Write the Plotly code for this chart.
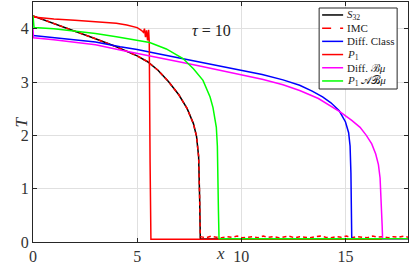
import plotly.graph_objects as go

# ---------------- data ----------------
s32_x = [0, 1, 2, 3, 4, 5, 5.5, 6, 6.5, 7, 7.4, 7.7, 7.85, 7.95, 8.0, 8.03, 18]
s32_T = [4.24, 4.10, 3.95, 3.81, 3.66, 3.49, 3.38, 3.22, 3.01, 2.76, 2.50, 2.22, 1.98, 1.60, 0.80, 0.06, 0.05]

imc_x = [0, 1, 2, 3, 4, 5, 5.5, 6, 6.5, 7, 7.4, 7.7, 7.85, 7.95, 8.0, 8.03,
         8.3, 8.55, 8.8, 9.05, 9.3, 9.55, 9.8, 10.05, 10.3, 10.55, 10.8, 11.05, 11.3, 11.55,
         11.8, 12.05, 12.3, 12.55, 12.8, 13.05, 13.3, 13.55, 13.8, 14.05, 14.3, 14.55, 14.8,
         15.05, 15.3, 15.55, 15.8, 16.05, 16.3, 16.55, 16.8, 17.05, 17.3, 17.55, 17.8, 18.0]
imc_T = [4.24, 4.10, 3.95, 3.81, 3.66, 3.49, 3.38, 3.22, 3.01, 2.76, 2.50, 2.22, 1.98, 1.60, 0.80, 0.10,
         0.08, 0.11, 0.09, 0.08, 0.10, 0.09, 0.11, 0.08, 0.09, 0.10, 0.08, 0.11, 0.09, 0.10,
         0.08, 0.09, 0.11, 0.08, 0.10, 0.09, 0.08, 0.10, 0.11, 0.09, 0.08, 0.10, 0.09,
         0.11, 0.08, 0.10, 0.09, 0.08, 0.11, 0.09, 0.10, 0.08, 0.10, 0.09, 0.11, 0.09]

diff_x = [0, 1, 2, 3, 4.18, 5, 6, 7, 8, 9, 10, 11, 12, 12.8, 13.4, 13.9, 14.3, 14.7, 15.0,
          15.15, 15.22, 15.26, 15.3, 18]
diff_T = [3.87, 3.83, 3.79, 3.75, 3.66, 3.61, 3.53, 3.45, 3.37, 3.30, 3.22, 3.14, 3.04, 2.94, 2.83,
          2.72, 2.61, 2.46, 2.25, 2.05, 1.80, 1.30, 0.05, 0.05]

p1_x = [0, 1, 2, 3, 4, 4.5, 5.0, 5.2, 5.3, 5.35, 5.4, 5.45, 5.5, 5.55, 5.58, 5.62, 5.66, 18]
p1_T = [4.22, 4.18, 4.16, 4.13, 4.10, 4.07, 4.02, 3.97, 3.93, 4.00, 3.84, 3.97, 3.78, 3.98, 3.75, 1.50, 0.05, 0.05]

diffb_x = [0, 0.02, 1, 2, 3, 4.18, 5, 6, 7, 8, 9, 10, 11, 12, 12.8, 13.7, 14.74, 15.3, 15.7,
           16.0, 16.26, 16.45, 16.58, 16.66, 16.72, 16.76, 16.78, 18]
diffb_T = [4.00, 3.83, 3.79, 3.75, 3.70, 3.60, 3.54, 3.46, 3.38, 3.30, 3.22, 3.13, 3.05, 2.95,
           2.84, 2.69, 2.44, 2.28, 2.15, 2.00, 1.84, 1.65, 1.45, 1.20, 0.80, 0.30, 0.05, 0.05]

p1ab_x = [0, 0.05, 1, 2, 3, 4, 5, 5.6, 6.4, 7.2, 7.7, 8.16, 8.5, 8.64, 8.8, 8.85, 8.9, 8.93, 18]
p1ab_T = [4.24, 4.02, 4.00, 3.96, 3.91, 3.85, 3.78, 3.74, 3.62, 3.44, 3.25, 3.03, 2.72, 2.52, 2.15, 1.80, 0.60, 0.06, 0.06]

x_ticks = [0, 5, 10, 15]
y_ticks = [0, 1, 2, 3, 4]

legend_labels = ["<i>S</i><sub>32</sub>", "IMC", "Diff. Class", "<i>P</i><sub>1</sub>",
                 "Diff. ℬ<i>μ</i>", "<i>P</i><sub>1</sub> 𝒜ℬ<i>μ</i>"]

# ---------------- figure ----------------
series = [
    (s32_x, s32_T, "#000000", "solid"),
    (imc_x, imc_T, "#ff0000", "4px,3px"),
    (diff_x, diff_T, "#0000ff", "solid"),
    (p1_x, p1_T, "#ff0000", "solid"),
    (diffb_x, diffb_T, "#ff00ff", "solid"),
    (p1ab_x, p1ab_T, "#00ff00", "solid"),
]

fig = go.Figure()
for (xs, ys, col, dash) in series:
    fig.add_trace(go.Scatter(x=xs, y=ys, mode="lines", showlegend=False, hoverinfo="skip",
                             line=dict(color=col, width=1.5, dash=dash)))

serif = "Liberation Serif, Times New Roman, serif"
axis_common = dict(showgrid=True, gridcolor="#e0e0e0", gridwidth=1,
                   showline=True, linecolor="#262626", linewidth=1, mirror="ticks",
                   ticks="inside", ticklen=4, tickcolor="#262626",
                   tickfont=dict(family=serif, size=16, color="#333333"),
                   zeroline=False)

fig.update_layout(
    width=409, height=274,
    margin=dict(l=33, r=1, t=2, b=32),
    paper_bgcolor="white", plot_bgcolor="white",
    xaxis=dict(range=[0, 18], tickvals=x_ticks, **axis_common),
    yaxis=dict(range=[0, 4.5], tickvals=y_ticks, **axis_common),
    showlegend=False,
)

# axis titles and label
fig.add_annotation(text="<i>x</i>", xref="paper", yref="paper", x=0.499, y=-0.096,
                   showarrow=False, font=dict(family=serif, size=17, color="#333333"))
fig.add_annotation(text="<i>T</i>", xref="paper", yref="paper", x=-0.064, y=0.5,
                   textangle=-90, showarrow=False, font=dict(family=serif, size=17, color="#333333"))
fig.add_annotation(text="<i>τ</i> = 10", xref="paper", yref="paper", x=0.475, y=0.925,
                   showarrow=False, font=dict(family=serif, size=16, color="#222222"))

# compact legend box (MATLAB style)
fig.add_shape(type="rect", xref="paper", yref="paper", x0=0.763, x1=0.971, y0=0.6375, y1=0.975,
              fillcolor="white", line=dict(color="#262626", width=1), layer="above")
top, step = 0.946, 0.055
for i, ((xs, ys, col, dash), name) in enumerate(zip(series, legend_labels)):
    yy = top - i * step
    fig.add_shape(type="line", xref="paper", yref="paper", x0=0.771, x1=0.827, y0=yy, y1=yy,
                  line=dict(color=col, width=1.5, dash="dash" if dash != "solid" else "solid"),
                  layer="above")
    fig.add_annotation(text=name, xref="paper", yref="paper", x=0.833, y=yy, xanchor="left",
                       yanchor="middle", showarrow=False,
                       font=dict(family=serif, size=11, color="#222222"))

fig.write_html("out.html", config={"displayModeBar": False},
               post_script="document.body.style.margin='0';")
